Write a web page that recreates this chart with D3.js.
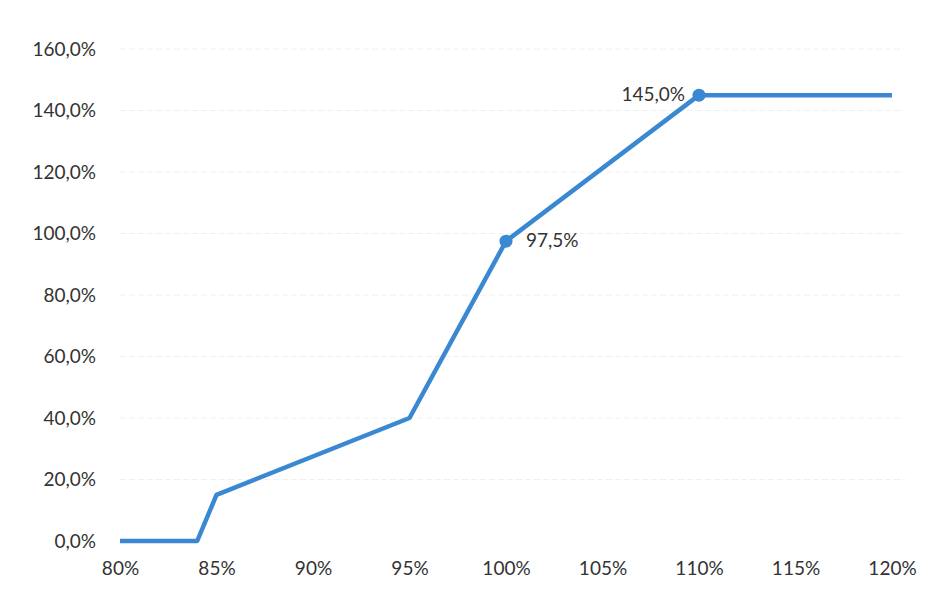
<!DOCTYPE html>
<html><head><meta charset="utf-8">
<script src="https://cdn.jsdelivr.net/npm/d3@7"></script>
<style>body{margin:0;background:#fff}svg{display:block}</style>
</head><body>
<script>
const xValues = [80, 84, 85, 95, 100, 110, 120];
const yValues = [0, 0, 15, 40, 97.5, 145, 145];
const labeledIdx = [4, 5];
const labelTexts = ["97,5%", "145,0%"];
const xTicks = [80, 85, 90, 95, 100, 105, 110, 115, 120];
const yTicks = [0, 20, 40, 60, 80, 100, 120, 140, 160];

const W = 933, H = 589;
const svg = d3.select("body").append("svg").attr("width", W).attr("height", H);
const x = d3.scaleLinear().domain([80, 120]).range([120, 892]);
const y = d3.scaleLinear().domain([0, 160]).range([541, 49]);
const font = "Lato, 'Open Sans', sans-serif";
const fs = 19;

// faint gridlines
svg.append("g").selectAll("line").data(yTicks.slice(1)).join("line")
  .attr("x1", 120).attr("x2", 905).attr("y1", d => y(d)).attr("y2", d => y(d))
  .attr("stroke", "#f0f0f0").attr("stroke-width", 1).attr("stroke-dasharray", "6,3");

// y axis labels
const yAxis = d3.axisLeft(y).tickValues(yTicks).tickSize(0).tickPadding(0)
  .tickFormat(d => d3.format(".1f")(d).replace(".", ",") + "%");
svg.append("g").attr("transform", "translate(96,0)").call(yAxis)
  .call(g => g.select(".domain").remove())
  .selectAll("text").attr("font-family", font).attr("font-size", fs).attr("fill", "#333");

// x axis labels
const xAxis = d3.axisBottom(x).tickValues(xTicks).tickSize(0).tickPadding(0)
  .tickFormat(d => d + "%");
svg.append("g").attr("transform", "translate(0,561)").call(xAxis)
  .call(g => g.select(".domain").remove())
  .selectAll("text").attr("font-family", font).attr("font-size", fs).attr("fill", "#333");

const data = xValues.map((v, i) => [v, yValues[i]]);
svg.append("path").datum(data)
  .attr("d", d3.line().x(d => x(d[0])).y(d => y(d[1])))
  .attr("fill", "none").attr("stroke", "#3b88d2").attr("stroke-width", 4.5)
  .attr("stroke-linejoin", "round");

const lab = labeledIdx.map((i, k) => ({x: xValues[i], y: yValues[i], t: labelTexts[k], k}));
svg.append("g").selectAll("circle").data(lab).join("circle")
  .attr("cx", d => x(d.x)).attr("cy", d => y(d.y)).attr("r", 6.5)
  .attr("fill", "#3b88d2");
svg.append("g").selectAll("text").data(lab).join("text")
  .attr("x", d => d.k === 0 ? x(d.x) + 20 : x(d.x) - 14)
  .attr("y", d => y(d.y) + 6)
  .attr("text-anchor", d => d.k === 0 ? "start" : "end")
  .attr("font-family", font).attr("font-size", fs).attr("fill", "#333")
  .text(d => d.t);
</script>
</body></html>
